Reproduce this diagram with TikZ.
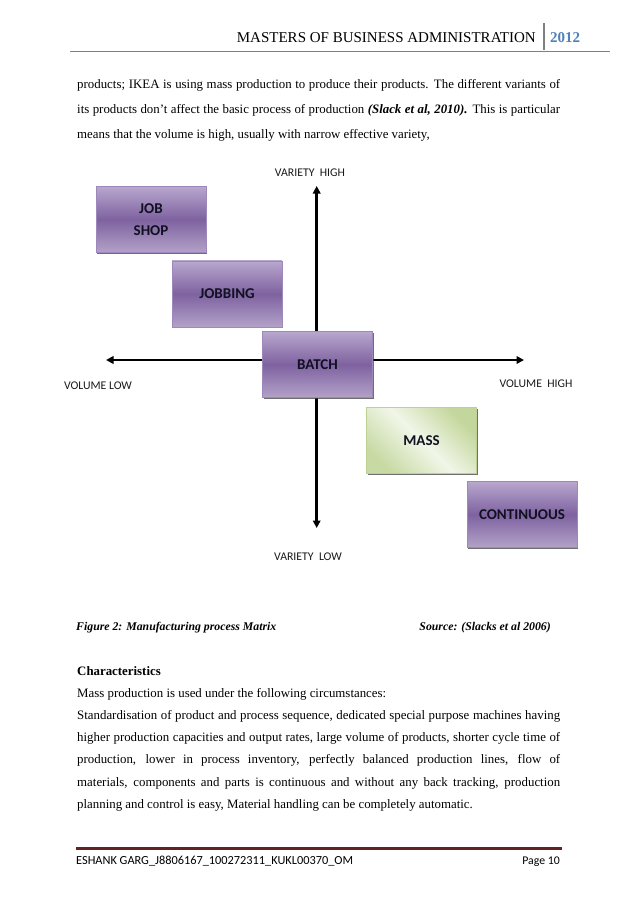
\documentclass[tikz,border=0pt]{standalone}
\usepackage{fontspec}
\setmainfont{Liberation Serif}
\newfontfamily\calibri{Carlito}
\usetikzlibrary{arrows.meta,shadows}
\definecolor{hdrblue}{HTML}{4F81BD}
\definecolor{hdrgray}{HTML}{7F7F7F}
\definecolor{ftred}{HTML}{622423}
\definecolor{ptop}{HTML}{B8A7CE}
\definecolor{pmid}{HTML}{7E62A0}
\definecolor{pbot}{HTML}{B3A2C8}
\definecolor{pedge}{HTML}{9C88BA}
\definecolor{gtop}{HTML}{C3D69B}
\definecolor{gmid}{HTML}{F1F6E8}
\definecolor{gbot}{HTML}{C8DAA4}
\definecolor{gedge}{HTML}{BDD193}
\definecolor{labtext}{HTML}{1A1A1A}
\definecolor{boxtext}{HTML}{111122}
\tikzset{
  bodyfont/.style={font=\fontsize{12}{14}\selectfont},
  bodyline/.style={anchor=base west, inner sep=0pt, bodyfont},
  procbox/.style={rectangle, minimum width=102.6pt, minimum height=61.6pt,
    line width=0.5pt, align=center, text=boxtext,
    font=\calibri\bfseries\fontsize{14}{20.5}\selectfont,
    drop shadow={shadow xshift=1.2pt, shadow yshift=-1.2pt, fill=black!75, opacity=0.75}},
  purplebox/.style={procbox, draw=pedge, top color=ptop, bottom color=pbot, middle color=pmid},
  greenbox/.style={procbox, draw=gedge, top color=gtop, bottom color=gbot, middle color=gmid, shading angle=-45},
  axislabel/.style={inner sep=0pt, text=labtext, font=\calibri\fontsize{11}{13}\selectfont},
  axisline/.style={line width=2.4pt, {Triangle[length=7pt,width=7pt]}-{Triangle[length=7pt,width=7pt]}},
}
\newcommand{\jline}[1]{\makebox[450.6pt][s]{#1}}
\begin{document}
\begin{tikzpicture}[x=0.9330pt,y=-0.9330pt]
\useasboundingbox[fill=white] (0,0) rectangle (638,903);

% header
\node[anchor=base east, inner sep=0pt, font=\fontsize{14}{16}\selectfont] (hdr) at (536,42) {MASTERS OF BUSINESS ADMINISTRATION};
\node[anchor=base west, inner sep=0pt, font=\bfseries\fontsize{14}{16}\selectfont, text=hdrblue] (year) at (550,42) {2012};
\coordinate (sepT) at (544,23);
\coordinate (sepB) at (544,50);
\draw[hdrgray, line width=1.4pt] (sepT) -- (sepB);
\coordinate (hrL) at (70,51.5);
\coordinate (hrR) at (610,51.5);
\draw[hdrgray, line width=1.8pt] (hrL) -- (hrR);

% top paragraph
\node[bodyline] (p1) at (77,88) {\jline{products; IKEA is using mass production to produce their products. The different variants of}};
\node[bodyline] (p2) at (77,113) {\jline{its products don’t affect the basic process of production \textbf{\textit{(Slack et al, 2010).}} This is particular}};
\node[bodyline] (p3) at (77,138) {means that the volume is high, usually with narrow effective variety,};

% axes
\coordinate (vtop) at (316.7,186);
\coordinate (vbot) at (316.7,528);
\coordinate (hleft) at (106,360);
\coordinate (hright) at (524,360);
\draw[axisline] (vbot) -- (vtop);
\draw[axisline] (hleft) -- (hright);

\node[axislabel] (vhigh) at (310,173) {VARIETY\ \ HIGH};
\node[axislabel] (vlow) at (308,557) {VARIETY\ \ LOW};
\node[axislabel] (hlow) at (98,386) {VOLUME LOW};
\node[axislabel] (hhigh) at (536,384) {VOLUME\ \ HIGH};

% boxes
\node[purplebox] (jobshop) at (151,219.5) {JOB\\SHOP};
\node[purplebox] (jobbing) at (227,294) {JOBBING};
\node[purplebox] (batch) at (317.5,364.5) {BATCH};
\node[greenbox] (mass) at (421.5,440.5) {MASS};
\node[purplebox] (cont) at (522,514.5) {CONTINUOUS};

% caption
\node[anchor=base west, inner sep=0pt, font=\bfseries\itshape\fontsize{11}{13}\selectfont] (cap) at (76,630) {Figure 2: Manufacturing process Matrix};
\node[anchor=base east, inner sep=0pt, font=\bfseries\itshape\fontsize{11}{13}\selectfont] (src) at (551,630) {Source: (Slacks et al 2006)};

% bottom paragraph
\node[bodyline, font=\bfseries\fontsize{12}{14}\selectfont] (ch) at (77,675) {Characteristics};
\node[bodyline] (b1) at (77,697) {Mass production is used under the following circumstances:};
\node[bodyline] (b2) at (77,719) {\jline{Standardisation of product and process sequence, dedicated special purpose machines having}};
\node[bodyline] (b3) at (77,741) {\jline{higher production capacities and output rates, large volume of products, shorter cycle time of}};
\node[bodyline] (b4) at (77,763) {\jline{production, lower in process inventory, perfectly balanced production lines, flow of}};
\node[bodyline] (b5) at (77,786) {\jline{materials, components and parts is continuous and without any back tracking, production}};
\node[bodyline] (b6) at (77,808) {planning and control is easy, Material handling can be completely automatic.};

% footer
\coordinate (frL) at (76,848);
\coordinate (frR) at (562,848);
\draw[ftred, line width=2.8pt] (frL) -- (frR);
\node[anchor=base west, inner sep=0pt, font=\calibri\fontsize{11.5}{13}\selectfont] (ftl) at (76,864) {ESHANK GARG\_J8806167\_100272311\_KUKL00370\_OM};
\node[anchor=base east, inner sep=0pt, font=\calibri\fontsize{11}{13}\selectfont] (ftr) at (560,864) {Page 10};
\end{tikzpicture}
\end{document}
